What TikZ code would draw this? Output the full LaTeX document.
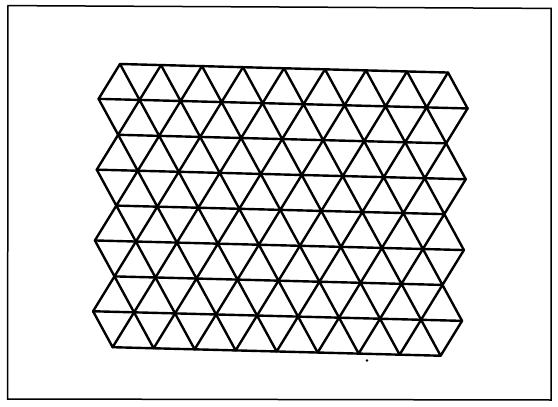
\documentclass[tikz,border=0pt]{standalone}
\begin{document}
\begin{tikzpicture}[x=1pt,y=-1pt,
  frame/.style={line width=1.5pt,line join=miter},
  mesh/.style={line width=2.4pt,line join=round,line cap=round}]
\useasboundingbox (0,0) rectangle (558,407);
% frame
\coordinate (f1) at (8,5.6);
\coordinate (f2) at (551,8.4);
\coordinate (f3) at (551,400);
\coordinate (f4) at (7.6,399);
\draw[frame] (f1) -- (f2) -- (f3) -- (f4) -- cycle;
% lattice vertices
\def\ox{120}\def\oy{64}\def\aa{41}\def\hh{35.4}\def\th{0.026}
\foreach \j in {0,...,8}{
  \pgfmathsetmacro\off{mod(\j,2)==0 ? 0 : -\aa/2}
  \pgfmathtruncatemacro\n{mod(\j,2)==0 ? 8 : 9}
  \foreach \i in {0,...,\n}{
    \pgfmathsetmacro\uu{\i*\aa+\off}
    \pgfmathsetmacro\vv{\j*\hh}
    \coordinate (v-\j-\i) at ({\ox+\uu-\th*\vv},{\oy+\vv+\th*\uu});
  }
}
% horizontal lines
\foreach \j/\last in {0/8,1/9,2/8,3/9,4/8,5/9,6/8,7/9,8/8}{
  \draw[mesh] (v-\j-0) -- (v-\j-\last);
}
% diagonal zigzags between rows
\foreach \e/\o in {0/1,2/1,2/3,4/3,4/5,6/5,6/7,8/7}{
  \draw[mesh] (v-\o-0) \foreach \i [count=\ip from 1] in {0,...,8}{ -- (v-\e-\i) -- (v-\o-\ip) };
}
% stray dot
\coordinate (dot) at (367,360.5);
\fill (dot) circle (1.3pt);
\end{tikzpicture}
\end{document}
